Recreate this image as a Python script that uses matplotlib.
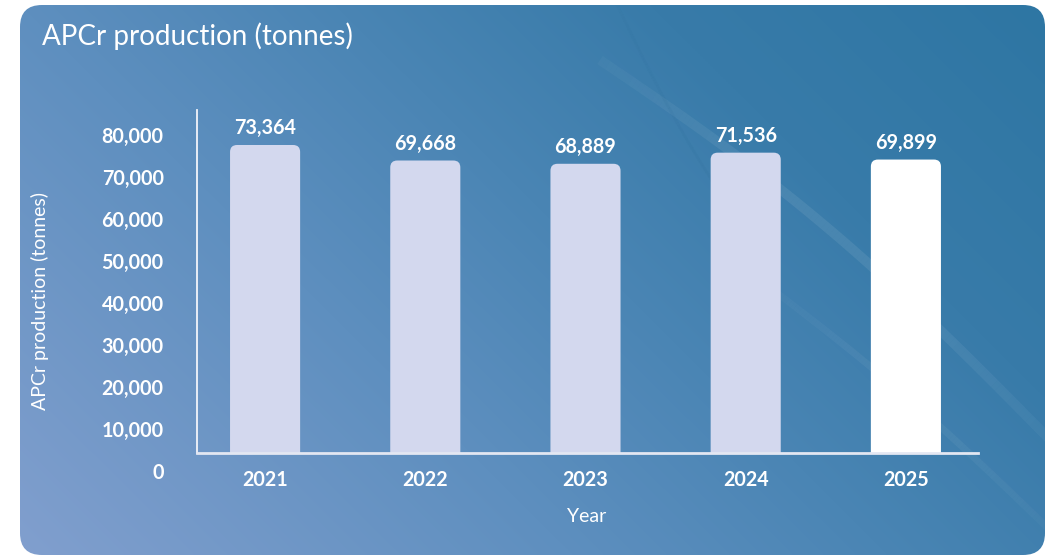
import numpy as np
import matplotlib
matplotlib.use("Agg")
import matplotlib.pyplot as plt
from matplotlib.patches import FancyBboxPatch
from matplotlib.collections import LineCollection
from matplotlib.colors import to_rgb
import matplotlib.transforms as mtransforms

# Data
years = ["2021", "2022", "2023", "2024", "2025"]
production = [73364, 69668, 68889, 71536, 69899]
bar_colors = ["#d3d8ee", "#d3d8ee", "#d3d8ee", "#d3d8ee", "#ffffff"]
y_ticks = [0, 10000, 20000, 30000, 40000, 50000, 60000, 70000, 80000]

W, H = 1049, 557
DPI = 100
plt.rcParams["font.family"] = ["Lato", "DejaVu Sans"]

fig = plt.figure(figsize=(W / DPI, H / DPI), dpi=DPI)
fig.patch.set_facecolor("white")

# ---- Gradient panel background ----
bg = fig.add_axes([0, 0, 1, 1])
bg.set_xlim(0, W)
bg.set_ylim(H, 0)
bg.axis("off")

xs = np.linspace(0, 1, 400)
ys = np.linspace(0, 1, 220)
X, Y = np.meshgrid(xs, ys)            # Y: 0 at top, 1 at bottom
u = np.clip(0.65 * X + 0.35 * (1 - Y), 0, 1)   # 0 bottom-left, 1 top-right
stops = [(0.0, "#819fce"), (0.35, "#5e8fbf"), (0.55, "#4a85b4"),
         (0.75, "#387ba9"), (1.0, "#2e76a3")]
img = np.zeros(X.shape + (3,))
for (t0, c0), (t1, c1) in zip(stops[:-1], stops[1:]):
    m = (u >= t0) & (u <= t1)
    f = ((u - t0) / (t1 - t0))[m][:, None]
    img[m] = np.array(to_rgb(c0)) * (1 - f) + np.array(to_rgb(c1)) * f

panel = FancyBboxPatch((20, 5), 1025, 550, boxstyle="round,pad=0,rounding_size=22",
                       transform=bg.transData, facecolor="none", edgecolor="none")
bg.add_patch(panel)
im = bg.imshow(img, extent=(20, 1045, 555, 5), aspect="auto", interpolation="bilinear")
im.set_clip_path(panel)

# faint decorative swooshes that fade in along their length
t = np.linspace(0, 1, 120)
for x0, y0, x1, y1, bend, amax, lw, col in [
        (600, 60, 1060, 450, 25, 0.08, 7, "white"),
        (610, -10, 770, 260, -20, 0.07, 2, "#1f5f8a"),
        (760, 280, 1060, 540, 10, 0.05, 5, "white")]:
    px = x0 + (x1 - x0) * t
    py = y0 + (y1 - y0) * t - bend * np.sin(np.pi * t)
    pts = np.column_stack([px, py]).reshape(-1, 1, 2)
    segs = np.concatenate([pts[:-1], pts[1:]], axis=1)
    alphas = amax * np.sin(np.pi * np.clip(t[:-1] * 0.6 + 0.2, 0, 1)) ** 2
    rgba = np.tile(np.append(to_rgb(col), 0.0), (len(segs), 1))
    rgba[:, 3] = alphas
    lc = LineCollection(segs, colors=rgba, linewidths=lw)
    bg.add_collection(lc)
    lc.set_clip_path(panel)

# ---- Bar chart ----
left, right = 197 / W, 978 / W
bottom, top = 1 - 453 / H, 1 - 110 / H
ax = fig.add_axes([left, bottom, right - left, top - bottom])
ax.patch.set_alpha(0)

x = np.arange(len(years))
width = 0.4375
ax.set_xlim(-0.425, 4.45)
ax.set_ylim(0, 81700)

bars = ax.bar(x, production, width=width, color=bar_colors, zorder=2)

# rounded tops: replace each bar with a rounded patch of the same geometry
ax_w_px = (right - left) * W
ax_h_px = (top - bottom) * H
xu_per_px = (ax.get_xlim()[1] - ax.get_xlim()[0]) / ax_w_px
yu_per_px = (ax.get_ylim()[1] - ax.get_ylim()[0]) / ax_h_px
radius_px = 7
for b, c in zip(bars, bar_colors):
    bx, bw, bh = b.get_x(), b.get_width(), b.get_height()
    b.set_visible(False)
    extra = radius_px * 2 * yu_per_px
    rp = FancyBboxPatch((bx, -extra), bw, bh + extra,
                        boxstyle=f"round,pad=0,rounding_size={radius_px * xu_per_px}",
                        mutation_aspect=yu_per_px / xu_per_px,
                        facecolor=c, edgecolor="none", zorder=2)
    ax.add_patch(rp)
    rp.set_clip_path(ax.patch)
    ax.annotate(f"{bh:,.0f}", (bx + bw / 2, bh), xytext=(0, 5),
                textcoords="offset points", ha="center", va="bottom",
                color="white", fontsize=14.2, fontweight="bold")

ax.set_xticks(x)
ax.set_xticklabels(years)
ax.set_yticks(y_ticks)
ax.set_yticklabels([f"{v:,}" for v in y_ticks])
ax.tick_params(axis="x", length=0, pad=12, labelsize=14.2, labelcolor="white")
ax.tick_params(axis="y", length=0, pad=24, labelsize=14.2, labelcolor="white")
for lbl in ax.get_xticklabels() + ax.get_yticklabels():
    lbl.set_fontweight("bold")
shift = mtransforms.ScaledTranslation(0, -18 / DPI, fig.dpi_scale_trans)
for lbl in ax.get_yticklabels():
    lbl.set_transform(lbl.get_transform() + shift)

for s in ["top", "right"]:
    ax.spines[s].set_visible(False)
ax.spines["left"].set_color("#f2f4fa")
ax.spines["left"].set_linewidth(1.3)
ax.spines["bottom"].set_color("#e3e7f2")
ax.spines["bottom"].set_linewidth(2)
ax.spines["bottom"].set_zorder(3)

# ---- Text ----
fig.text(42 / W, 1 - 45 / H, "APCr production (tonnes)", color="white",
         fontsize=20, ha="left", va="baseline")
fig.text(40 / W, 1 - 301 / H, "APCr production (tonnes)", color="white",
         fontsize=14, rotation=90, ha="center", va="center")
fig.text(587 / W, 1 - 517 / H, "Year", color="white", fontsize=14,
         ha="center", va="center")

fig.savefig("out.png", dpi=DPI, facecolor=fig.get_facecolor())
